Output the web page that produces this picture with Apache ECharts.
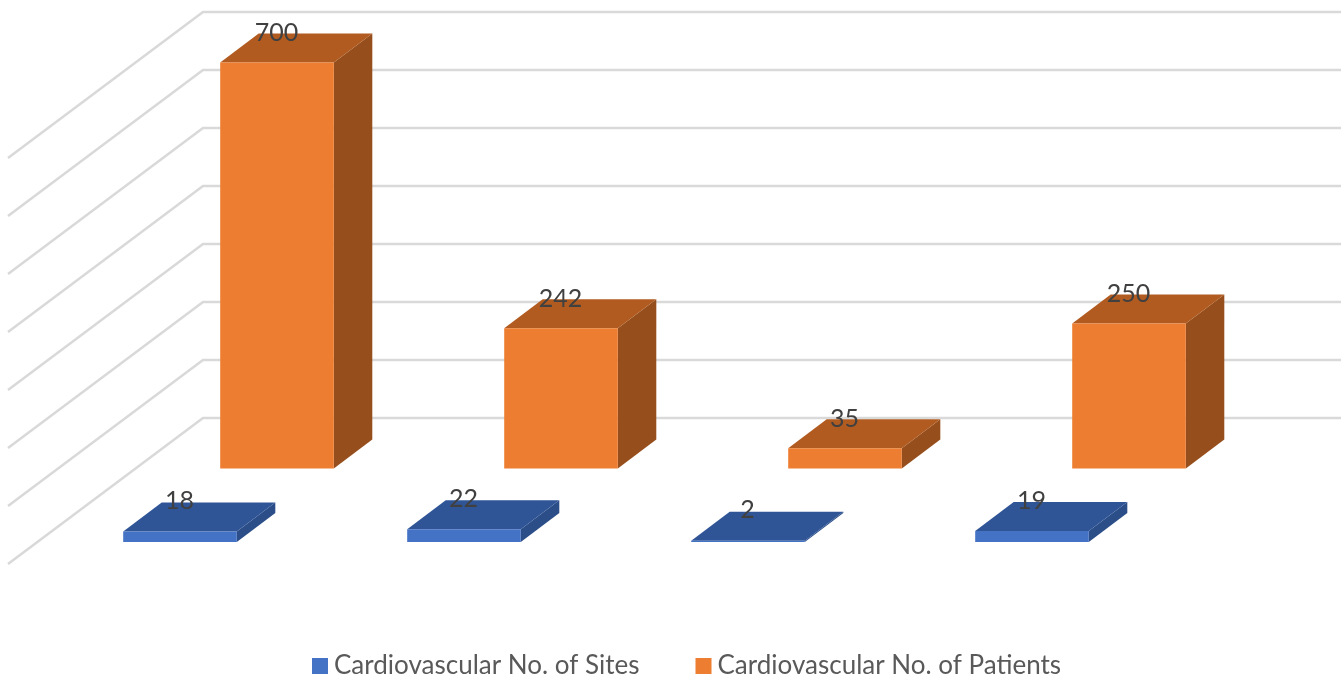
<!DOCTYPE html>
<html>
<head>
<meta charset="utf-8">
<style>
  html, body { margin: 0; padding: 0; background: #fff; }
  #main { width: 1341px; height: 677px; }
</style>
<script src="https://cdn.jsdelivr.net/npm/echarts@6/dist/echarts.min.js"></script>
</head>
<body>
<div id="main"></div>
<script>
const categories = ['1', '2', '3', '4'];
const sites = [18, 22, 2, 19];
const patients = [700, 242, 35, 250];
const gridValues = [100, 200, 300, 400, 500, 600, 700, 800];
const seriesNames = ['Cardiovascular No. of Sites', 'Cardiovascular No. of Patients'];

const FONT = 'Lato';

// fake 3d bar, shifted away from the back wall
function barRenderer(dx, dy, labelGap, colors) {
    return function (params, api) {
        const base = api.coord([api.value(0), 0]);
        const top = api.coord([api.value(0), api.value(1)]);
        const w = api.size([1, 0])[0] * 0.4;
        const l = base[0] + dx - w / 2, r = l + w;
        const b = base[1] + dy, t = top[1] + dy;
        const ox = 38.5, oy = -29;
        return {
            type: 'group',
            children: [
                { type: 'polygon', shape: { points: [[r, t], [r + ox, t + oy], [r + ox, b + oy], [r, b]] }, style: { fill: colors.side } },
                { type: 'polygon', shape: { points: [[l, t], [l + ox, t + oy], [r + ox, t + oy], [r, t]] }, style: { fill: colors.top } },
                { type: 'rect', shape: { x: l, y: t, width: w, height: b - t }, style: { fill: colors.front } },
                {
                    type: 'text', z2: 10,
                    style: {
                        x: l + w / 2 - 0.5, y: t - labelGap, text: String(api.value(1)),
                        fill: '#404040', font: '25px ' + FONT, align: 'center', verticalAlign: 'middle'
                    }
                }
            ]
        };
    };
}

function wallRenderer(params, api) {
    const p = api.coord([0, api.value(0)]);
    const x0 = p[0] - api.size([1, 0])[0] / 2;
    return {
        type: 'polyline',
        shape: { points: [[8, p[1] + 146 * (x0 - 8) / 195], [x0, p[1]], [1341, p[1]]] },
        style: { fill: null, stroke: '#d9d9d9', lineWidth: 2.5 },
        silent: true
    };
}

const myChart = echarts.init(document.getElementById('main'), null, { renderer: 'canvas' });
myChart.setOption({
    animation: false,
    backgroundColor: '#fff',
    grid: { left: 203, top: 12, width: 1136, height: 464, containLabel: false },
    xAxis: { type: 'category', data: categories, show: false },
    yAxis: { type: 'value', min: 0, max: 800, interval: 100, show: false },
    legend: {
        left: 307, top: 648, itemWidth: 16, itemHeight: 16, itemGap: 56,
        icon: 'rect', selectedMode: false,
        data: seriesNames,
        textStyle: { fontFamily: FONT, fontSize: 26, color: '#595959', padding: [0, 0, 0, 1] }
    },
    series: [
        {
            type: 'custom', silent: true, renderItem: wallRenderer, z: 1,
            data: gridValues.map(v => [v]), encode: { y: 0 }, clip: false
        },
        {
            name: seriesNames[0], type: 'custom', z: 3, clip: false,
            itemStyle: { color: '#4472c4' },
            renderItem: barRenderer(-165, 66, 30.5, { front: '#4472c4', top: '#2f5597', side: '#2b4d88' }),
            data: sites.map((v, i) => [i, v]), encode: { x: 0, y: 1 }
        },
        {
            name: seriesNames[1], type: 'custom', z: 2, clip: false,
            itemStyle: { color: '#ed7d31' },
            renderItem: barRenderer(-68, -7.5, 29.5, { front: '#ed7d31', top: '#b15b20', side: '#964f1c' }),
            data: patients.map((v, i) => [i, v]), encode: { x: 0, y: 1 }
        }
    ]
});
</script>
</body>
</html>
